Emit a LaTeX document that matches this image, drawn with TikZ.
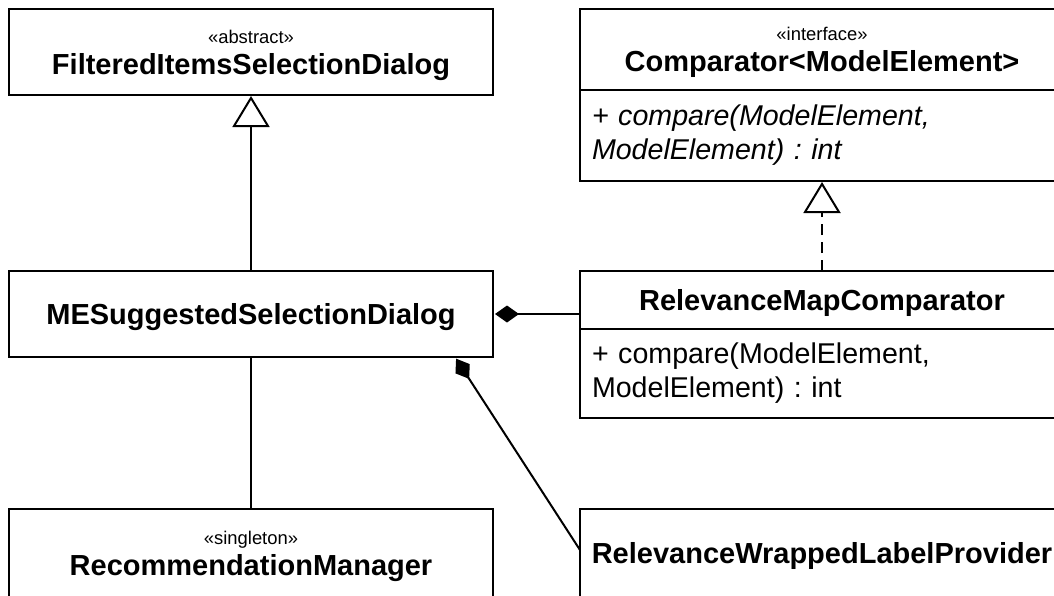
\documentclass[tikz,border=0pt]{standalone}
\usepackage{fontspec}
\setmainfont{Liberation Sans}
\usetikzlibrary{arrows.meta}
\frenchspacing
\newcommand\umlstereo[1]{{\fontsize{18.4}{20}\selectfont «#1»}}
\begin{document}
\begin{tikzpicture}[x=1pt,y=-1pt,
  umlbox/.style={draw, line width=2pt, outer sep=0pt, minimum width=484pt,
    inner sep=0pt, text depth=0pt, align=center,
    font=\fontsize{29}{31}\selectfont},
  umlops/.style={draw, line width=2pt, outer sep=0pt, text width=460pt,
    inner xsep=12pt, inner ysep=0pt, align=left,
    font=\fontsize{28.6}{34}\selectfont},
  umlline/.style={line width=2pt},
  umlgen/.style={umlline, -{Triangle[open,length=31pt,width=37pt,line width=2pt]}, shorten >=1pt},
  umlreal/.style={umlgen, dash pattern=on 11pt off 7pt},
  umlcomp/.style={umlline, {Diamond[length=24pt,width=17pt]}-, shorten <=2pt},
]
\useasboundingbox (0,0) rectangle (1054,595);
\fill[white] (0,0) rectangle (1054,595);

% left column
\node[umlbox, minimum height=86pt] (fisd) at (251,52)
  {\umlstereo{abstract}\\\textbf{FilteredItemsSelectionDialog}};
\node[umlbox, minimum height=86pt] (me) at (251,314)
  {\textbf{MESuggestedSelectionDialog}};
\node[umlbox, minimum height=88pt] (rm) at (251,553)
  {\umlstereo{singleton}\\\textbf{RecommendationManager}};

% right column
\node[umlbox, minimum height=81pt] (cmp) at (822,49.5)
  {\umlstereo{interface}\\\textbf{Comparator<ModelElement>}};
\node[umlops, minimum height=91pt, anchor=north] (cmpops) at (cmp.south)
  {\itshape + compare(ModelElement,\\ModelElement) : int};
\node[umlbox, minimum height=58pt] (rmc) at (822,300)
  {\textbf{RelevanceMapComparator}};
\node[umlops, minimum height=89pt, anchor=north] (rmcops) at (rmc.south)
  {+ compare(ModelElement,\\ModelElement) : int};
\node[umlbox, minimum height=88pt] (rw) at (822,553)
  {\textbf{RelevanceWrappedLabelProvider}};

% relations
\draw[umlgen] (me.north) -- (fisd.south);
\draw[umlline] (me.south) -- (rm.north);
\draw[umlreal] (rmc.north) -- (cmpops.south);
\draw[umlcomp] (me.east) -- (me.east -| rmc.west);
\draw[umlcomp] ([xshift=204pt]me.south) -- ([yshift=3pt]rw.west);
\end{tikzpicture}
\end{document}
